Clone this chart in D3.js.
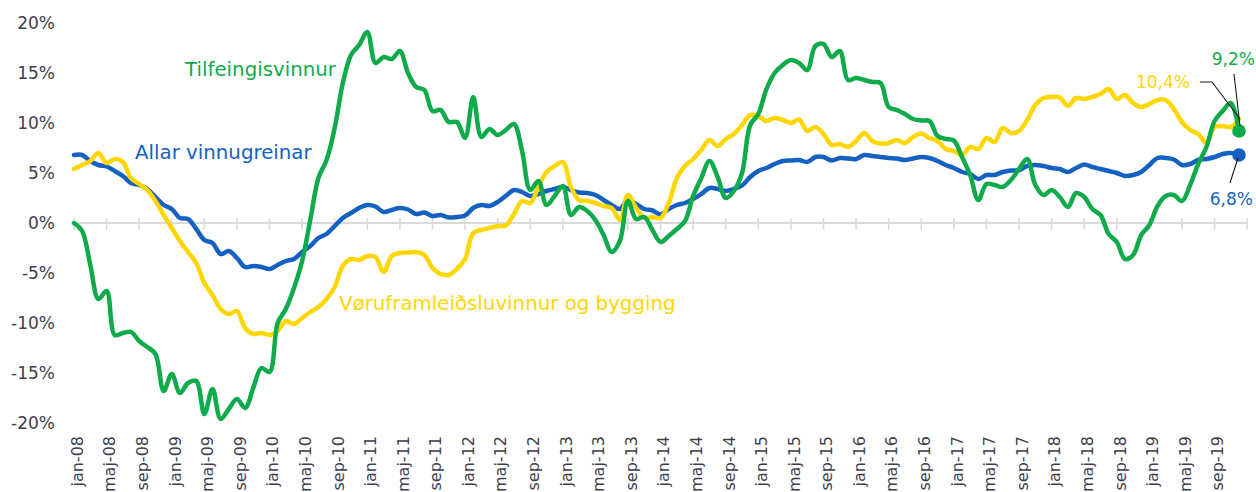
<!DOCTYPE html>
<html>
<head>
<meta charset="utf-8">
<script src="https://cdn.jsdelivr.net/npm/d3@7"></script>
<style>
  body { margin: 0; background: #fff; }
  text { font-family: "DejaVu Sans", Verdana, sans-serif; }
</style>
</head>
<body>
<script>
// months jan-08 .. des-19
const monthNames = ["jan","feb","mar","apr","maj","jun","jul","aug","sep","okt","nov","des"];
const years = ["08","09","10","11","12","13","14","15","16","17","18","19"];
const months = years.flatMap(y => monthNames.map(m => m + "-" + y));

const tickLabels = ["jan-08","maj-08","sep-08","jan-09","maj-09","sep-09","jan-10","maj-10","sep-10",
  "jan-11","maj-11","sep-11","jan-12","maj-12","sep-12","jan-13","maj-13","sep-13",
  "jan-14","maj-14","sep-14","jan-15","maj-15","sep-15","jan-16","maj-16","sep-16",
  "jan-17","maj-17","sep-17","jan-18","maj-18","sep-18","jan-19","maj-19","sep-19"];

const yTicks = [-20, -15, -10, -5, 0, 5, 10, 15, 20];

// Allar vinnugreinar
const allar = [
  6.8, 6.8, 6.2, 5.8, 5.65, 5.2, 4.7, 4.0, 3.8, 3.4, 2.6, 1.8,
  1.4, 0.5, 0.4, -0.6, -1.7, -2.0, -3.1, -2.8, -3.5, -4.4, -4.3, -4.4,
  -4.6, -4.2, -3.8, -3.6, -2.9, -2.3, -1.5, -1.1, -0.3, 0.5, 1.0, 1.5,
  1.8, 1.65, 1.1, 1.3, 1.5, 1.35, 0.9, 1.05, 0.7, 0.8, 0.55, 0.6,
  0.75, 1.5, 1.8, 1.7, 2.1, 2.7, 3.3, 3.1, 2.7, 2.9, 3.2, 3.4,
  3.6, 3.3, 3.05, 3.0, 2.8, 2.3, 1.8, 1.4, 2.3, 1.9, 1.4, 1.25,
  0.85, 1.4, 1.8, 2.0, 2.4, 2.9, 3.5, 3.4, 3.2, 3.4, 3.75, 4.6,
  5.2, 5.5, 5.9, 6.2, 6.25, 6.3, 6.1, 6.6, 6.6, 6.25, 6.5, 6.45,
  6.4, 6.8, 6.7, 6.6, 6.5, 6.45, 6.3, 6.45, 6.6, 6.5, 6.2, 5.8,
  5.5, 5.1, 4.9, 4.4, 4.8, 4.8, 5.1, 5.25, 5.3, 5.7, 5.8, 5.7,
  5.5, 5.4, 5.1, 5.5, 5.85, 5.6, 5.4, 5.2, 5.0, 4.7, 4.8, 5.1,
  5.8, 6.5, 6.5, 6.35, 5.8, 5.9, 6.3, 6.4, 6.6, 6.9, 7.0, 6.8
];

// Tilfeingisvinnur
const tilfeingi = [
  0.0, -0.8, -4.2, -7.6, -6.8, -11.2, -11.0, -10.9, -11.8, -12.4, -13.1, -16.8,
  -15.1, -17.0, -16.0, -15.8, -19.1, -16.6, -19.6, -18.6, -17.6, -18.5, -16.5, -14.5,
  -14.9, -10.0, -8.6, -6.5, -3.8, 0.3, 4.5, 6.3, 9.5, 14.0, 16.8, 17.8,
  19.1, 16.0, 16.6, 16.4, 17.2, 15.0, 13.6, 13.3, 11.2, 11.3, 10.1, 10.1,
  8.5, 12.6, 8.6, 9.4, 8.8, 9.3, 9.9, 7.2, 3.3, 4.2, 1.8, 2.7,
  3.7, 0.8, 1.6, 1.2, 0.3, -1.2, -2.9, -1.8, 2.2, 0.4, 0.6, -0.7,
  -1.9, -1.3, -0.6, 0.2, 2.7, 4.5, 6.2, 4.6, 2.5, 3.2, 5.0, 9.8,
  10.9, 13.4, 15.0, 15.8, 16.3, 16.0, 15.3, 17.7, 17.9, 16.6, 17.2, 14.3,
  14.5, 14.3, 14.1, 14.0, 11.6, 11.3, 10.9, 10.4, 10.25, 10.2, 8.7, 8.4,
  8.25, 6.6, 4.8, 2.3, 3.9, 3.8, 3.6, 4.3, 5.4, 6.4, 3.8, 2.8,
  3.3, 2.6, 1.6, 3.0, 2.6, 1.4, 0.8, -1.1, -1.9, -3.6, -3.2, -1.2,
  -0.2, 1.7, 2.7, 2.8, 2.2, 3.8, 5.9, 7.6, 10.2, 11.2, 12.0, 9.2
];

// Vøruframleiðsluvinnur og bygging
const voru = [
  5.4, 5.8, 6.2, 7.0, 6.0, 6.4, 6.1, 4.5, 3.9, 3.3, 2.2, 0.8,
  -0.5, -1.8, -2.9, -4.0, -6.0, -7.2, -8.6, -9.1, -8.8, -10.5, -11.1, -11.0,
  -11.2, -10.8, -9.8, -10.1, -9.5, -8.9, -8.4, -7.6, -6.4, -4.3, -3.6, -3.7,
  -3.3, -3.4, -4.9, -3.3, -3.0, -2.95, -2.9, -3.2, -4.5, -5.1, -5.2, -4.6,
  -3.6, -1.0, -0.7, -0.5, -0.3, -0.25, 0.9, 2.2, 2.0, 3.6, 5.1, 5.7,
  6.1, 3.6, 2.3, 2.2, 2.0, 1.7, 1.5, 0.3, 2.8, 1.5, 0.5, 0.6,
  0.5, 2.0, 4.5, 5.7, 6.4, 7.3, 8.3, 7.7, 8.4, 8.9, 9.8, 10.8,
  10.7, 10.2, 10.5, 10.3, 10.0, 10.35, 9.2, 9.6, 8.9, 7.8, 7.9, 7.6,
  8.2, 9.0, 8.2, 7.95, 8.0, 8.3, 8.0, 8.6, 8.95, 8.5, 8.2, 7.4,
  7.2, 6.8, 7.6, 7.4, 8.5, 8.1, 9.5, 9.0, 9.2, 10.3, 11.8, 12.5,
  12.6, 12.55, 11.7, 12.5, 12.4, 12.6, 12.9, 13.4, 12.4, 12.8, 12.0, 11.6,
  11.9, 12.3, 12.3, 11.4, 10.1, 9.3, 8.9, 8.0, 9.6, 9.7, 9.6, 10.4
];

const blue = "#1461c2", green = "#0fab4b", yellow = "#ffd600";
const axisText = "#3e3e4e";

const width = 1256, height = 492;
const svg = d3.select("body").append("svg")
  .attr("width", width).attr("height", height);

const x = d3.scaleLinear().domain([0, months.length - 1]).range([74, 1239]);
const y = d3.scaleLinear().domain([-20, 20]).range([423, 23]);

// y labels
svg.append("g").selectAll("text")
  .data(yTicks)
  .join("text")
    .attr("x", 55)
    .attr("y", d => y(d))
    .attr("dy", "0.36em")
    .attr("text-anchor", "end")
    .attr("font-size", "17px")
    .attr("fill", axisText)
    .text(d => d + "%");

// zero line + ticks
const tickIdx = d3.range(0, months.length + 1, 4);
svg.append("line")
  .attr("x1", x(0) - 1).attr("x2", x(144))
  .attr("y1", y(0)).attr("y2", y(0))
  .attr("stroke", "#d9d9d9").attr("stroke-width", 2);
svg.append("g").selectAll("line")
  .data(tickIdx)
  .join("line")
    .attr("x1", d => x(d)).attr("x2", d => x(d))
    .attr("y1", y(0) - 5).attr("y2", y(0) + 7)
    .attr("stroke", "#d9d9d9").attr("stroke-width", 1.5);

// x labels
svg.append("g").selectAll("text")
  .data(tickLabels)
  .join("text")
    .attr("transform", d => "translate(" + x(months.indexOf(d)) + ",436) rotate(-90)")
    .attr("dy", "0.55em")
    .attr("text-anchor", "end")
    .attr("font-size", "16px")
    .attr("fill", axisText)
    .text(d => d);

const line = d3.line()
  .x((d, i) => x(i))
  .y(d => y(d))
  .curve(d3.curveCatmullRom.alpha(0.5));

const series = [
  {name: "Allar vinnugreinar", values: allar, color: blue},
  {name: "Vøruframleiðsluvinnur og bygging", values: voru, color: yellow},
  {name: "Tilfeingisvinnur", values: tilfeingi, color: green}
];

svg.append("g").selectAll("path")
  .data(series)
  .join("path")
    .attr("d", d => line(d.values))
    .attr("fill", "none")
    .attr("stroke", d => d.color)
    .attr("stroke-width", 4.5)
    .attr("stroke-linejoin", "round")
    .attr("stroke-linecap", "round");

// series labels
const lbl = (txt, px, py, col) => svg.append("text")
  .attr("x", px).attr("y", py)
  .attr("font-size", "19.8px")
  .attr("fill", col)
  .text(txt);
lbl("Tilfeingisvinnur", 185, 75.5, green);
lbl("Allar vinnugreinar", 135, 158.5, blue);
lbl("Vøruframleiðsluvinnur og bygging", 339, 310, yellow);

// end markers
const last = months.length - 1;
const ex = x(last);
[[tilfeingi, green], [allar, blue]].forEach(([vals, col]) => {
  svg.append("circle")
    .attr("cx", ex).attr("cy", y(vals[last]))
    .attr("r", 6.8)
    .attr("fill", col);
});

// end value labels with leader lines
const yv = y(voru[last]), yt = y(tilfeingi[last]), ya = y(allar[last]);
const leader = pts => svg.append("path")
  .attr("d", d3.line()(pts))
  .attr("fill", "none")
  .attr("stroke", "#1a1a1a")
  .attr("stroke-width", 1.1);

leader([[ex - 39, yv - 37], [ex - 27, yv - 37], [ex + 1, yv]]);
leader([[ex - 5, yt - 57], [ex + 1, yt - 5]]);
leader([[ex - 9, ya + 28], [ex - 1, ya + 3]]);

const endLbl = (txt, px, py, col) => svg.append("text")
  .attr("x", px).attr("y", py)
  .attr("text-anchor", "end")
  .attr("font-size", "17px")
  .attr("fill", col)
  .text(txt);
endLbl("10,4%", 1190, 88, yellow);
endLbl("9,2%", 1255, 65, green);
endLbl("6,8%", 1253, 204.5, blue);
</script>
</body>
</html>
